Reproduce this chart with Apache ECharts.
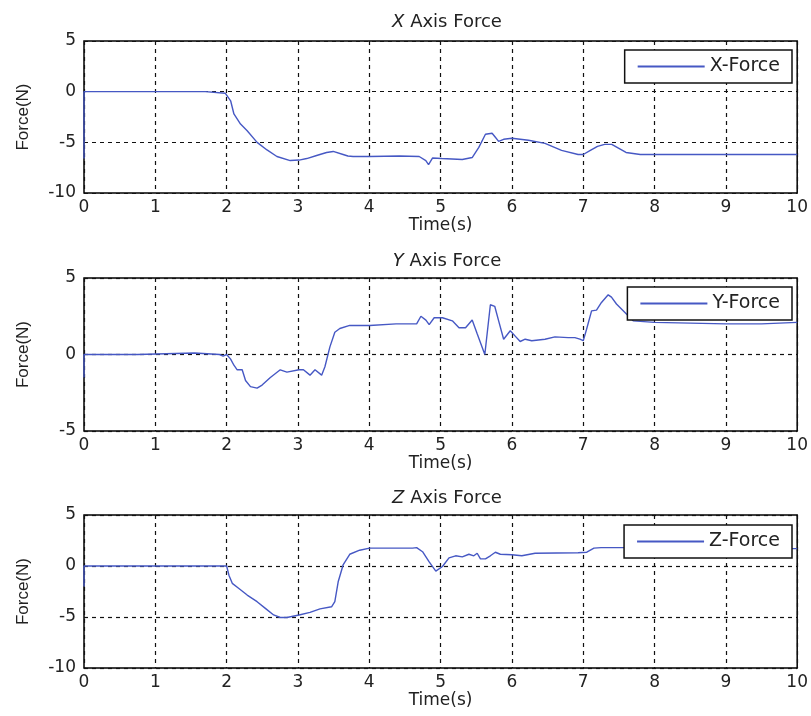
<!DOCTYPE html>
<html>
<head>
<meta charset="utf-8">
<script src="https://cdn.jsdelivr.net/npm/echarts@6/dist/echarts.min.js"></script>
<style>
  html, body { margin: 0; padding: 0; background: #fff; }
  #chart { width: 811px; height: 716px; }
</style>
</head>
<body>
<div id="chart"></div>
<script>
// X axis force
const xTime = [0, 0, 1.7, 1.72, 1.98, 2.0, 2.056, 2.102, 2.195, 2.288, 2.427, 2.566, 2.705, 2.891,
    3.016, 3.123, 3.262, 3.401, 3.494, 3.633, 3.70, 3.72, 3.773, 4.005, 4.422, 4.70, 4.793, 4.831, 4.886,
    5.016, 5.304, 5.443, 5.536, 5.629, 5.722, 5.768, 5.814, 5.884, 6.0, 6.232, 6.464, 6.696, 6.928,
    7.0, 7.1, 7.2, 7.3, 7.4, 7.5, 7.6, 7.8, 10];
const xForce = [-6.6, 0, 0, -0.15, -0.15, -0.15, -0.9, -2.2, -3.2, -3.85, -5.0, -5.75, -6.4, -6.8,
    -6.75, -6.6, -6.3, -6.0, -5.9, -6.2, -6.35, -6.25, -6.4, -6.4, -6.35, -6.4, -6.8, -7.2, -6.55,
    -6.6, -6.7, -6.5, -5.5, -4.2, -4.1, -4.5, -4.9, -4.7, -4.6, -4.8, -5.1, -5.8, -6.2,
    -6.2, -5.8, -5.4, -5.2, -5.2, -5.6, -6.0, -6.2, -6.2];

// Y axis force
const yTime = [0, 0, 0.75, 0.76, 1.55, 1.56, 1.9, 1.95, 2.0, 2.056, 2.102, 2.148, 2.218, 2.265, 2.334,
    2.427, 2.497, 2.613, 2.752, 2.845, 3.016, 3.077, 3.169, 3.239, 3.332, 3.378, 3.448, 3.517, 3.587,
    3.726, 4.005, 4.376, 4.664, 4.724, 4.794, 4.84, 4.91, 5.026, 5.165, 5.258, 5.35, 5.443, 5.513, 5.62,
    5.698, 5.759, 5.814, 5.884, 5.977, 6.046, 6.116, 6.186, 6.278, 6.464, 6.603, 6.789, 6.883, 6.953,
    7.0, 7.047, 7.117, 7.186, 7.256, 7.35, 7.396, 7.466, 7.70, 8.0, 9.0, 9.5, 10];
const yForce = [-1.5, 0, 0, 0.1, 0.1, 0, 0, -0.1, 0, -0.3, -0.7, -1.0, -1.0, -1.7, -2.1,
    -2.2, -2.0, -1.5, -1.0, -1.15, -1.0, -1.0, -1.35, -1.0, -1.35, -0.8, 0.5, 1.45, 1.7,
    1.9, 1.9, 2.0, 2.0, 2.5, 2.25, 1.95, 2.4, 2.4, 2.2, 1.75, 1.75, 2.25, 1.35, 0,
    3.25, 3.15, 2.2, 1.0, 1.55, 1.2, 0.85, 1.0, 0.9, 1.0, 1.15, 1.1, 1.1, 1.0,
    0.9, 1.65, 2.85, 2.9, 3.4, 3.9, 3.75, 3.3, 2.2, 2.1, 2.0, 2.0, 2.1];

// Z axis force
const zTime = [0, 0, 2.0, 2.032, 2.079, 2.172, 2.288, 2.427, 2.543, 2.659, 2.752, 2.845, 3.016, 3.169,
    3.309, 3.471, 3.517, 3.564, 3.633, 3.726, 3.865, 4.005, 4.608, 4.664, 4.747, 4.84, 4.933, 5.026,
    5.118, 5.211, 5.304, 5.397, 5.466, 5.513, 5.559, 5.629, 5.698, 5.768, 5.838, 6.0, 6.139, 6.325,
    6.928, 7.05, 7.15, 7.25, 9.0, 9.1, 10];
const zForce = [-2.0, 0, 0, -0.9, -1.7, -2.2, -2.85, -3.5, -4.15, -4.8, -5.05, -5.05, -4.8, -4.55,
    -4.2, -4.0, -3.5, -1.55, 0.1, 1.15, 1.55, 1.75, 1.75, 1.8, 1.4, 0.4, -0.5, -0.05,
    0.8, 1.0, 0.9, 1.15, 1.0, 1.25, 0.7, 0.7, 1.0, 1.35, 1.15, 1.1, 1.0, 1.25,
    1.3, 1.35, 1.75, 1.8, 1.8, 1.7, 1.7];

const titles = ['X', 'Y', 'Z'];
const seriesNames = ['X-Force', 'Y-Force', 'Z-Force'];
const yMins = [-10, -5, -10];
const yMaxs = [5, 5, 5];

const times = [xTime, yTime, zTime];
const forces = [xForce, yForce, zForce];

const gridTops = [41, 278, 515];
const gridHeights = [152, 153, 153];
const legendTops = [50, 287, 525];
const titleTops = [8, 247, 484];

const textColor = '#222';
const lineColor = '#4658c4';
// the picture is a bit stretched sideways, DejaVu is wider than Arial
const wideFont = 'DejaVu Sans, sans-serif';
const narrowFont = 'Liberation Sans, Arial, sans-serif';

function pairs(t, v) {
    return t.map((x, i) => [x, v[i]]);
}

const splitLine = {
    show: true,
    lineStyle: { color: '#111', type: [4, 4], width: 1.2 }
};

let option = {
    animation: false,
    backgroundColor: '#fff',
    title: titles.map((t, i) => ({
        text: '{i|' + t + '} Axis Force',
        left: 442,
        top: titleTops[i],
        textAlign: 'center',
        textStyle: {
            fontSize: 18, fontWeight: 'normal', color: textColor, fontFamily: wideFont,
            rich: { i: { fontStyle: 'italic', fontSize: 18, color: textColor, fontFamily: wideFont } }
        }
    })),
    legend: seriesNames.map((name, i) => ({
        data: [name],
        right: 19,
        top: legendTops[i],
        orient: 'vertical',
        padding: [7, 12, 7, 13],
        icon: 'rect',
        itemWidth: 67,
        itemHeight: 2,
        itemGap: 0,
        backgroundColor: '#fff',
        borderColor: '#111',
        borderWidth: 1.5,
        borderRadius: 0,
        selectedMode: false,
        textStyle: { fontSize: 19, color: textColor, fontFamily: wideFont, lineHeight: 19 }
    })),
    grid: gridTops.map((top, i) => ({
        left: 84,
        top: top,
        width: 717,
        height: gridHeights[i],
        show: true,
        borderColor: '#000',
        borderWidth: 1.5,
        backgroundColor: 'transparent'
    })),
    xAxis: gridTops.map((top, i) => ({
        type: 'value',
        gridIndex: i,
        min: 0,
        max: 10,
        interval: 1,
        name: 'Time(s)',
        nameLocation: 'middle',
        nameGap: 20,
        nameTextStyle: { fontSize: 17, color: textColor, fontFamily: wideFont },
        axisLine: { show: false },
        axisTick: { show: false },
        axisLabel: { fontSize: 17, color: textColor, margin: 6, fontFamily: wideFont },
        splitLine: splitLine
    })),
    yAxis: gridTops.map((top, i) => ({
        type: 'value',
        gridIndex: i,
        min: yMins[i],
        max: yMaxs[i],
        interval: 5,
        name: 'Force(N)',
        nameLocation: 'middle',
        nameGap: 52,
        nameTextStyle: { fontSize: 17, color: textColor, fontFamily: narrowFont },
        axisLine: { show: false },
        axisTick: { show: false },
        axisLabel: { fontSize: 17, color: textColor, margin: 8, fontFamily: wideFont },
        splitLine: splitLine
    })),
    series: seriesNames.map((name, i) => ({
        name: name,
        type: 'line',
        xAxisIndex: i,
        yAxisIndex: i,
        symbol: 'none',
        color: lineColor,
        lineStyle: { color: lineColor, width: 1.4 },
        data: pairs(times[i], forces[i])
    }))
};

let chart = echarts.init(document.getElementById('chart'));
chart.setOption(option);
</script>
</body>
</html>
